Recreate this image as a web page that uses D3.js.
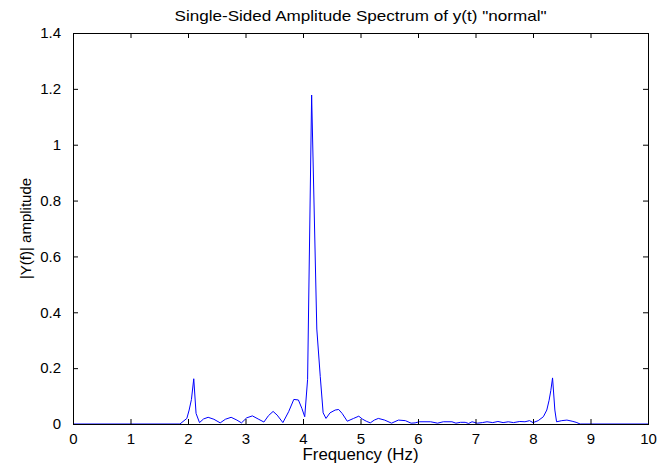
<!DOCTYPE html>
<html>
<head>
<meta charset="utf-8">
<script src="https://cdn.jsdelivr.net/npm/d3@7"></script>
<style>
  html, body { margin: 0; padding: 0; background: #fff; }
  svg { display: block; font-family: Arial, "Liberation Sans", sans-serif; }
</style>
</head>
<body>
<svg id="chart" width="670" height="466"></svg>
<script>
// Spectrum samples
var freqHz = [0, 1.86, 1.98, 2.02, 2.06, 2.10, 2.14, 2.20, 2.27, 2.35, 2.45, 2.56, 2.65, 2.75, 2.85, 2.93,
  3.02, 3.12, 3.22, 3.32, 3.40, 3.48, 3.55, 3.65, 3.75, 3.84, 3.92, 3.98, 4.03, 4.08, 4.15, 4.24,
  4.30, 4.35, 4.40, 4.47, 4.56, 4.62, 4.68, 4.77, 4.88, 4.97, 5.03, 5.10, 5.17, 5.24, 5.31, 5.42,
  5.54, 5.66, 5.78, 5.88, 5.95, 6.02, 6.22, 6.34, 6.44, 6.59, 6.66, 6.74, 6.82, 6.88, 6.94, 7.03,
  7.12, 7.20, 7.30, 7.39, 7.48, 7.57, 7.66, 7.77, 7.86, 7.94, 8.00, 8.09, 8.18, 8.24, 8.28, 8.31,
  8.34, 8.38, 8.41, 8.50, 8.59, 8.68, 8.75, 8.82, 10];
var amplitude = [0, 0, 0.02, 0.05, 0.088, 0.162, 0.038, 0.005, 0.018, 0.024, 0.017, 0.004, 0.017, 0.024, 0.014, 0.004,
  0.022, 0.029, 0.018, 0.007, 0.03, 0.045, 0.032, 0.005, 0.044, 0.088, 0.086, 0.056, 0.026, 0.16, 1.178, 0.34,
  0.17, 0.04, 0.02, 0.04, 0.05, 0.052, 0.038, 0.01, 0.02, 0.028, 0.018, 0.01, 0.004, 0.014, 0.02, 0.014,
  0.003, 0.014, 0.012, 0.003, 0.004, 0.008, 0.008, 0.003, 0.008, 0.008, 0.003, 0.006, 0.006, 0.002, 0.008, 0.003,
  0.005, 0.008, 0.005, 0.009, 0.005, 0.008, 0.005, 0.009, 0.008, 0.012, 0.005, 0.012, 0.026, 0.05, 0.085, 0.12,
  0.165, 0.05, 0.008, 0.012, 0.014, 0.01, 0.006, 0, 0];
var xTicks = [0, 1, 2, 3, 4, 5, 6, 7, 8, 9, 10];
var yTicks = [0, 0.2, 0.4, 0.6, 0.8, 1, 1.2, 1.4];
var titleText = 'Single-Sided Amplitude Spectrum of y(t) "normal"';
var xLabel = 'Frequency (Hz)';
var yLabel = '|Y(f)| amplitude';

var margin = { top: 33, right: 22, bottom: 42, left: 73 };
var W = 670, H = 466;
var w = W - margin.left - margin.right;
var h = H - margin.top - margin.bottom;

var svg = d3.select('#chart');
var g = svg.append('g').attr('transform', 'translate(' + margin.left + ',' + margin.top + ')');

var x = d3.scaleLinear().domain([0, 10]).range([0, w]);
var y = d3.scaleLinear().domain([0, 1.4]).range([h, 0]);

var pts = freqHz.map(function (f, i) { return [f, amplitude[i]]; });

// spectrum line
g.append('path')
  .datum(pts)
  .attr('fill', 'none')
  .attr('stroke', '#0000ff')
  .attr('stroke-width', 1)
  .attr('d', d3.line().x(function (d) { return x(d[0]); }).y(function (d) { return y(d[1]); }));

// axes, matlab style: ticks inward on all four sides
var tk = 5;
var fmt = function (d) { return String(+d.toFixed(1)); };
var xb = g.append('g').attr('transform', 'translate(0,' + h + ')')
  .call(d3.axisBottom(x).tickValues(xTicks).tickSizeInner(-tk).tickSizeOuter(0).tickPadding(9).tickFormat(fmt));
var xt = g.append('g')
  .call(d3.axisTop(x).tickValues(xTicks).tickSizeInner(-tk).tickSizeOuter(0).tickFormat(''));
var yl = g.append('g')
  .call(d3.axisLeft(y).tickValues(yTicks).tickSizeInner(-tk).tickSizeOuter(0).tickPadding(12).tickFormat(fmt));
var yr = g.append('g').attr('transform', 'translate(' + w + ',0)')
  .call(d3.axisRight(y).tickValues(yTicks).tickSizeInner(-tk).tickSizeOuter(0).tickFormat(''));

[xb, xt, yl, yr].forEach(function (a) {
  a.select('.domain').remove();
  a.selectAll('line').attr('stroke', '#000');
  a.selectAll('text').attr('fill', '#000').style('font-size', '15px')
    .style('font-family', 'Arial, "Liberation Sans", sans-serif');
});

// box
g.append('rect')
  .attr('x', 0).attr('y', 0).attr('width', w).attr('height', h)
  .attr('fill', 'none').attr('stroke', '#000').attr('stroke-width', 1)
  .attr('shape-rendering', 'crispEdges');

// title and labels
svg.append('text')
  .attr('x', margin.left + w / 2).attr('y', 21)
  .attr('text-anchor', 'middle').style('font-size', '15px')
  .attr('textLength', 372).attr('lengthAdjust', 'spacingAndGlyphs')
  .text(titleText);

svg.append('text')
  .attr('x', margin.left + w / 2).attr('y', 460)
  .attr('text-anchor', 'middle').style('font-size', '16px')
  .attr('textLength', 116).attr('lengthAdjust', 'spacingAndGlyphs')
  .text(xLabel);

svg.append('text')
  .attr('transform', 'translate(31,' + (margin.top + h / 2) + ') rotate(-90)')
  .attr('text-anchor', 'middle').style('font-size', '15px')
  .text(yLabel);
</script>
</body>
</html>
